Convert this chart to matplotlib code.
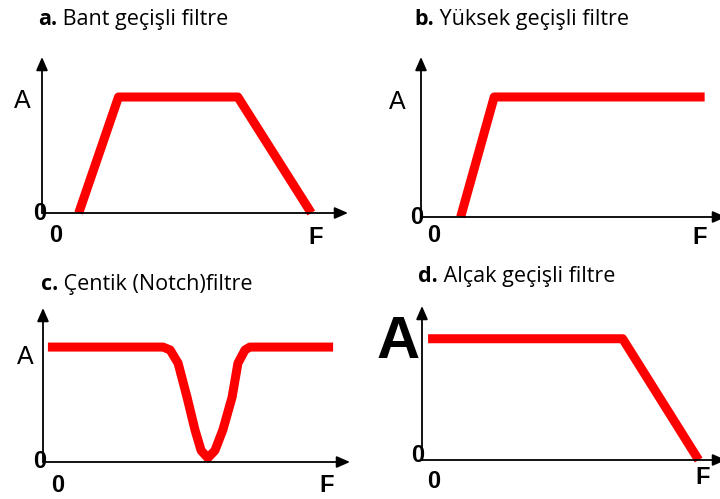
import matplotlib.pyplot as plt

W, H = 720, 499

# filter responses: frequency (0-100 along the F axis), amplitude (1 = "A")
f_band = [12, 25, 64, 88]
a_band = [0, 1, 1, 0]

f_high = [13, 24, 93]
a_high = [0, 1, 1]

f_notch = [1.6, 39.1, 41.4, 44.0, 46.9, 49.5, 51.5, 53.7, 56.0, 58.6,
           61.6, 63.5, 65.8, 67.4, 94.5]
a_notch = [1, 1, 0.975, 0.86, 0.565, 0.28, 0.10, 0.035, 0.10, 0.28,
           0.565, 0.86, 0.975, 1, 1]

f_low = [2, 66, 91]
a_low = [1, 1, 0]

titles = [("a.", "Bant geçişli filtre"), ("b.", "Yüksek geçişli filtre"),
          ("c.", "Çentik (Notch)filtre"), ("d.", "Alçak geçişli filtre")]

fig = plt.figure(figsize=(7.2, 4.99), dpi=100)


def px(x, y):
    return x / W, 1 - y / H


def panel(origin, xend, ytop, ymax):
    x0, y0 = origin
    ax = fig.add_axes([x0 / W, 1 - y0 / H, (xend - x0) / W, (y0 - ytop) / H])
    ax.set_xlim(0, 100)
    ax.set_ylim(0, ymax)
    ax.axis("off")
    head = "-|>,head_length=0.8,head_width=0.35"
    for tip in [(0, 1), (1, 0)]:
        ax.annotate("", xy=tip, xytext=(0, 0), xycoords="axes fraction",
                    arrowprops=dict(arrowstyle=head, lw=1.3, color="black",
                                    shrinkA=0, shrinkB=0))
    return ax


def label(x, y, s, size=17, weight="bold"):
    fig.text(*px(x, y), s, ha="center", va="center", fontsize=size,
             fontweight=weight, family="Liberation Sans")


def title(x, y, bold, rest):
    t = fig.text(*px(x, y), bold, fontsize=15.5, fontweight="bold",
                 family="Open Sans", va="baseline")
    plt.annotate(" " + rest, xy=(1, 0), xycoords=t, fontsize=15.5,
                 family="Open Sans", va="bottom", ha="left",
                 annotation_clip=False)


red = dict(color="#ff0000", lw=6.5, solid_capstyle="butt", solid_joinstyle="round")

ax = panel((42, 213), 348, 57, 1.345)
ax.plot(f_band, a_band, **red, clip_on=False)
ax = panel((421, 217), 726, 57, 1.333)
ax.plot(f_high, a_high, **red, clip_on=False)
ax = panel((43, 462), 350, 308, 1.34)
ax.plot(f_notch, a_notch, **red, clip_on=False)
ax = panel((422, 460), 726, 306, 1.27)
ax.plot(f_low, a_low, **red, clip_on=False)

# axis labels
label(22, 101, "A", 18, "normal")
label(397, 102, "A", 18, "normal")
label(25, 357, "A", 18, "normal")
label(398, 343, "A", 43)
for x, y in [(40, 214), (417, 217), (40, 462), (418, 455)]:
    label(x, y, "0")
for x, y in [(56, 235), (434, 236), (58, 485), (434, 481)]:
    label(x, y, "0")
for x, y in [(316, 238), (700, 238), (327, 485), (703, 478)]:
    label(x, y, "F")

for (x, y), (b, r) in zip([(38, 25), (414, 25), (41, 290), (418, 282)], titles):
    title(x, y, b, r)

fig.savefig("out.png", dpi=100)
